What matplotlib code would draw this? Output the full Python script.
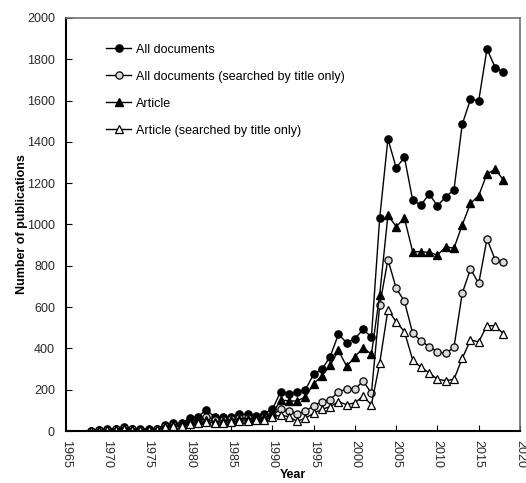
import matplotlib
matplotlib.use("Agg")
import matplotlib.pyplot as plt

plt.rcParams['font.family'] = ['Liberation Sans', 'DejaVu Sans']

years = list(range(1968, 2019))

all_docs = [0, 5, 8, 11, 20, 11, 8, 9, 11, 29, 37, 38, 63, 69, 103, 67, 66, 68, 82, 81, 74, 84,
            105, 190, 180, 187, 200, 275, 298, 360, 468, 428, 447, 492, 455, 1030,
            1414, 1275, 1325, 1118, 1094, 1148, 1090, 1135, 1167, 1485, 1606, 1600, 1850, 1760, 1738]

all_docs_title = [0, 3, 5, 8, 14, 8, 6, 7, 9, 22, 28, 30, 45, 50, 70, 52, 52, 56, 62, 63, 60, 66,
                  78, 105, 97, 83, 95, 123, 142, 152, 190, 203, 203, 242, 183, 608,
                  830, 691, 628, 473, 437, 408, 384, 376, 405, 667, 784, 715, 930, 828, 817]

article = [0, 4, 6, 9, 16, 9, 7, 8, 9, 24, 30, 32, 50, 55, 55, 45, 50, 55, 57, 60, 62, 66,
           82, 150, 146, 145, 166, 228, 268, 318, 390, 313, 360, 403, 372, 659,
           1045, 990, 1030, 868, 868, 865, 852, 892, 885, 998, 1102, 1140, 1245, 1268, 1215]

article_title = [0, 2, 4, 6, 10, 6, 5, 6, 7, 18, 22, 24, 36, 40, 45, 38, 40, 44, 48, 50, 52, 55,
                 68, 77, 69, 47, 62, 86, 105, 118, 142, 127, 137, 169, 127, 328,
                 587, 529, 481, 344, 308, 282, 250, 244, 250, 352, 440, 432, 510, 510, 470]

labels = ["All documents", "All documents (searched by title only)",
          "Article", "Article (searched by title only)"]

fig = plt.figure(figsize=(5.26, 4.83), dpi=100)
ax = fig.add_axes([66/526, 1 - 431/483, (520-66)/526, (431-18)/483])

ms = 5.2
lw = 1.0
ax.plot(years, all_docs, '-', color='black', marker='o', ms=ms, mfc='black', mec='black', lw=lw, label=labels[0])
ax.plot(years, all_docs_title, '-', color='black', marker='o', ms=ms, mfc='#d9d9d9', mec='black', mew=0.9, lw=lw, label=labels[1])
ax.plot(years, article, '-', color='black', marker='^', ms=ms, mfc='black', mec='black', lw=lw, label=labels[2])
ax.plot(years, article_title, '-', color='black', marker='^', ms=ms, mfc='white', mec='black', mew=0.9, lw=lw, label=labels[3])

ax.set_xlim(1965, 2020)
ax.set_ylim(0, 2000)
ax.set_xticks(range(1965, 2021, 5))
ax.set_yticks(range(0, 2001, 200))
ax.tick_params(axis='both', direction='in', length=4, labelsize=9, colors='black', labelcolor='#2a2a2a')
ax.tick_params(axis='y', pad=8)
ax.tick_params(axis='x', labelrotation=-90, pad=6.5)

for s in ['left', 'bottom']:
    ax.spines[s].set_linewidth(1.5)
    ax.spines[s].set_color('black')
for s in ['top', 'right']:
    ax.spines[s].set_linewidth(1.2)
    ax.spines[s].set_color('#707070')

ax.set_xlabel('Year', fontweight='bold', fontsize=9, labelpad=1)
ax.set_ylabel('Number of publications', fontweight='bold', fontsize=9, labelpad=-1)

leg = ax.legend(loc='upper left', bbox_to_anchor=(0.078, 0.95), frameon=False, fontsize=9,
                handlelength=2.0, handletextpad=0.35, labelspacing=1.2, borderaxespad=0)

fig.savefig('out.png', dpi=100)
